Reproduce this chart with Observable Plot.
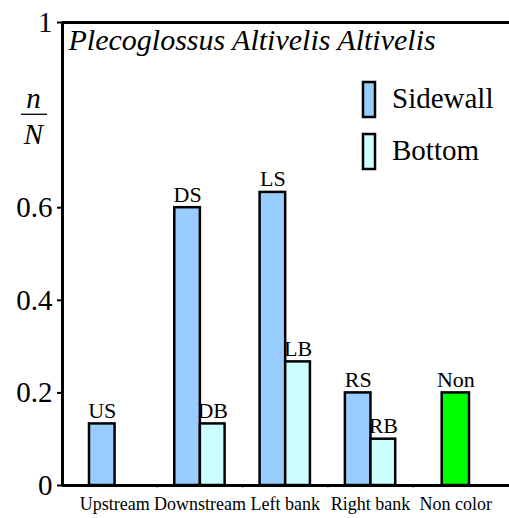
<!DOCTYPE html>
<html><head><meta charset="utf-8">
<script src="https://cdn.jsdelivr.net/npm/d3@7"></script>
<script src="https://cdn.jsdelivr.net/npm/@observablehq/plot@0.6"></script>
<style>body{margin:0;background:#fff} svg{display:block}</style>
</head><body><div id="chart"></div>
<script>
const categories = ["Upstream", "Downstream", "Left bank", "Right bank", "Non color"];
const sidewall = [0.133, 0.6, 0.633, 0.2, 0];
const bottom = [0, 0.133, 0.267, 0.1, 0];
const noncolor = [0, 0, 0, 0, 0.2];
const sidewallLabels = ["US", "DS", "LS", "RS", null];
const bottomLabels = [null, "DB", "LB", "RB", null];
const noncolorLabels = [null, null, null, null, "Non"];
const yTicks = [0, 0.2, 0.4, 0.6, 1];
const boundaries = [1, 2, 3, 4];
const seriesNames = ["Sidewall", "Bottom"];
const title = "Plecoglossus Altivelis Altivelis";

const colors = {Sidewall: "#99ccff", Bottom: "#ccffff", Non: "#00ff00"};
const font = "'Liberation Serif', 'Times New Roman', serif";

const bars = [];
categories.forEach((c, i) => {
  const cx = i + 0.505;
  bars.push({cat: c, series: "Sidewall", value: sidewall[i], label: sidewallLabels[i], x1: cx - 0.3, x2: cx});
  bars.push({cat: c, series: "Bottom", value: bottom[i], label: bottomLabels[i], x1: cx, x2: cx + 0.29});
  if (noncolor[i] > 0) bars.push({cat: c, series: "Non", value: noncolor[i], label: noncolorLabels[i], x1: cx - 0.165, x2: cx + 0.155});
});
const zeroBars = bars.filter(d => d.value === 0);
const valueBars = bars.filter(d => d.value > 0);

const plot = Plot.plot({
  width: 509, height: 518,
  marginLeft: 62, marginRight: 0, marginTop: 22, marginBottom: 33,
  style: {fontFamily: font, fontSize: "29px", background: "white", color: "black"},
  x: {domain: [0, 5], range: [71.5, 498]},
  y: {domain: [0, 1]},
  color: {type: "identity"},
  marks: [
    Plot.axisY({ticks: yTicks, tickSize: 5, tickPadding: 5, strokeWidth: 2, tickFormat: d => String(d), fontSize: 29, label: null}),
    Plot.axisX({ticks: boundaries, tickSize: 3, tickFormat: () => "", stroke: "#888", label: null}),
    Plot.rect(zeroBars, {x1: "x1", x2: "x2", y1: 0, y2: "value", fill: d => colors[d.series], stroke: "black", strokeWidth: 2.5}),
    Plot.ruleY([0, 1], {strokeWidth: 3}),
    Plot.rect(valueBars, {x1: "x1", x2: "x2", y1: 0, y2: "value", fill: d => colors[d.series], stroke: "black", strokeWidth: 2.5}),
    Plot.text(valueBars.filter(d => d.label), {x: d => (d.x1 + d.x2) / 2, y: "value", text: "label", lineAnchor: "bottom", dy: -6, fontSize: 22}),
    Plot.text(categories, {x: (d, i) => i + 0.5, y: () => 0, text: d => d, dy: 19, fontSize: 18}),
    Plot.ruleX([0], {dx: -9.5, strokeWidth: 3}),
    Plot.text([title], {frameAnchor: "top-left", dx: 6, dy: 6, fontStyle: "italic", fontSize: 30, fontFamily: font})
  ]
});

const svg = d3.select(plot);
// legend
const legend = svg.append("g").attr("text-anchor", "start").attr("font-family", font);
seriesNames.forEach((s, k) => {
  const y0 = 82 + k * 52;
  legend.append("rect").attr("x", 363).attr("y", y0).attr("width", 12).attr("height", 35)
    .attr("fill", colors[s]).attr("stroke", "black").attr("stroke-width", 2.5);
  legend.append("text").attr("x", 392).attr("y", y0 + 26).attr("font-size", 29).text(s);
});
// y-axis label n/N
const lab = svg.append("g").attr("font-family", font).attr("font-style", "italic").attr("font-size", 29).attr("text-anchor", "middle");
lab.append("text").attr("x", 33.5).attr("y", 108).text("n");
lab.append("line").attr("x1", 21).attr("x2", 47).attr("y1", 114.3).attr("y2", 114.3).attr("stroke", "black").attr("stroke-width", 1.3);
lab.append("text").attr("x", 33.5).attr("y", 144).text("N");

document.getElementById("chart").append(plot);
</script>
</body></html>
